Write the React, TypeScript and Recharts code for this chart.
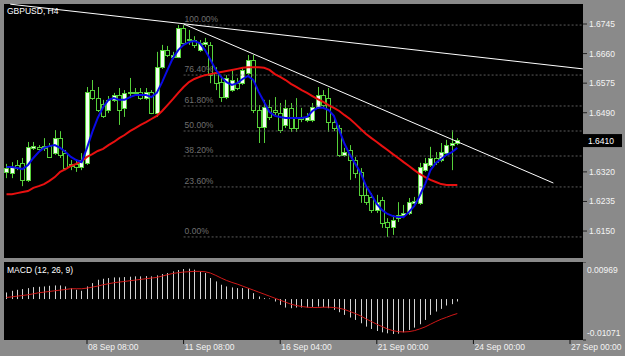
import React from 'react';
import { ComposedChart, Bar, Line, XAxis, YAxis, CartesianGrid, ReferenceLine } from 'recharts';

// ---- data (H4 bars, index 0 .. 84) ----
const opens = [1.6320,1.6317,1.6340,1.6346,1.6297,1.6389,1.6392,1.6389,1.6394,1.6374,1.6417,1.6374,1.6337,1.6343,1.6334,1.6346,1.6555,1.6532,1.6515,1.6498,1.6527,1.6541,1.6504,1.6547,1.6550,1.6550,1.6532,1.6550,1.6489,1.6621,1.6670,1.6650,1.6650,1.6734,1.6699,1.6699,1.6670,1.6688,1.6685,1.6604,1.6578,1.6535,1.6555,1.6575,1.6575,1.6604,1.6642,1.6498,1.6449,1.6506,1.6498,1.6489,1.6455,1.6504,1.6478,1.6478,1.6469,1.6469,1.6506,1.6541,1.6532,1.6463,1.6446,1.6369,1.6383,1.6354,1.6320,1.6254,1.6248,1.6210,1.6239,1.6176,1.6162,1.6187,1.6196,1.6202,1.6231,1.6231,1.6325,1.6340,1.6360,1.6354,1.6374,1.6397,1.6403];
const highs = [1.6343,1.6348,1.6354,1.6360,1.6406,1.6406,1.6397,1.6417,1.6403,1.6440,1.6437,1.6383,1.6354,1.6354,1.6374,1.6564,1.6584,1.6564,1.6527,1.6538,1.6547,1.6561,1.6555,1.6590,1.6561,1.6561,1.6561,1.6555,1.6665,1.6685,1.6682,1.6665,1.6742,1.6742,1.6728,1.6710,1.6699,1.6705,1.6693,1.6621,1.6596,1.6598,1.6613,1.6590,1.6621,1.6656,1.6656,1.6512,1.6527,1.6527,1.6535,1.6518,1.6527,1.6518,1.6532,1.6504,1.6489,1.6518,1.6564,1.6555,1.6561,1.6475,1.6455,1.6389,1.6397,1.6363,1.6331,1.6274,1.6259,1.6254,1.6248,1.6187,1.6196,1.6233,1.6225,1.6245,1.6248,1.6346,1.6360,1.6392,1.6377,1.6403,1.6412,1.6440,1.6417];
const lows = [1.6302,1.6302,1.6325,1.6279,1.6291,1.6383,1.6377,1.6380,1.6360,1.6369,1.6360,1.6325,1.6325,1.6320,1.6325,1.6340,1.6527,1.6492,1.6475,1.6489,1.6521,1.6455,1.6478,1.6532,1.6541,1.6527,1.6527,1.6486,1.6478,1.6616,1.6650,1.6644,1.6647,1.6682,1.6685,1.6676,1.6665,1.6679,1.6575,1.6555,1.6521,1.6529,1.6550,1.6555,1.6570,1.6598,1.6489,1.6403,1.6403,1.6469,1.6483,1.6432,1.6446,1.6435,1.6435,1.6463,1.6463,1.6463,1.6501,1.6504,1.6435,1.6437,1.6363,1.6363,1.6297,1.6302,1.6231,1.6225,1.6202,1.6202,1.6159,1.6133,1.6139,1.6176,1.6187,1.6196,1.6222,1.6225,1.6320,1.6334,1.6340,1.6348,1.6366,1.6325,1.6397];
const closes = [1.6331,1.6334,1.6331,1.6297,1.6392,1.6394,1.6386,1.6394,1.6363,1.6417,1.6369,1.6331,1.6343,1.6334,1.6354,1.6550,1.6532,1.6498,1.6481,1.6527,1.6541,1.6498,1.6547,1.6550,1.6547,1.6532,1.6550,1.6489,1.6621,1.6670,1.6656,1.6656,1.6734,1.6690,1.6702,1.6685,1.6690,1.6693,1.6598,1.6575,1.6535,1.6590,1.6584,1.6561,1.6613,1.6642,1.6498,1.6449,1.6506,1.6478,1.6492,1.6440,1.6504,1.6446,1.6446,1.6472,1.6478,1.6506,1.6541,1.6512,1.6463,1.6446,1.6369,1.6377,1.6354,1.6317,1.6254,1.6233,1.6210,1.6233,1.6173,1.6162,1.6182,1.6196,1.6202,1.6233,1.6236,1.6334,1.6346,1.6360,1.6348,1.6377,1.6397,1.6403,1.6412];
const maFast = [1.6334,1.6334,1.6331,1.6328,1.6340,1.6360,1.6377,1.6389,1.6394,1.6397,1.6389,1.6377,1.6363,1.6354,1.6348,1.6389,1.6435,1.6475,1.6506,1.6527,1.6532,1.6527,1.6527,1.6535,1.6541,1.6541,1.6541,1.6535,1.6547,1.6578,1.6613,1.6647,1.6670,1.6685,1.6693,1.6696,1.6690,1.6670,1.6642,1.6613,1.6593,1.6578,1.6570,1.6575,1.6587,1.6596,1.6584,1.6550,1.6521,1.6492,1.6481,1.6478,1.6475,1.6475,1.6475,1.6475,1.6478,1.6495,1.6504,1.6504,1.6498,1.6481,1.6440,1.6400,1.6369,1.6343,1.6317,1.6279,1.6254,1.6228,1.6210,1.6199,1.6193,1.6190,1.6190,1.6205,1.6222,1.6251,1.6285,1.6325,1.6346,1.6357,1.6369,1.6377,1.6389];
const maSlow = [1.6256,1.6256,1.6259,1.6262,1.6265,1.6274,1.6279,1.6285,1.6294,1.6305,1.6320,1.6328,1.6337,1.6343,1.6351,1.6363,1.6371,1.6380,1.6386,1.6397,1.6406,1.6417,1.6426,1.6437,1.6446,1.6455,1.6463,1.6472,1.6481,1.6495,1.6512,1.6529,1.6547,1.6564,1.6578,1.6587,1.6593,1.6598,1.6601,1.6604,1.6607,1.6610,1.6613,1.6616,1.6619,1.6621,1.6621,1.6621,1.6619,1.6613,1.6601,1.6593,1.6584,1.6573,1.6564,1.6555,1.6547,1.6538,1.6529,1.6521,1.6512,1.6504,1.6495,1.6483,1.6472,1.6458,1.6443,1.6429,1.6417,1.6406,1.6394,1.6383,1.6371,1.6360,1.6348,1.6337,1.6325,1.6314,1.6305,1.6297,1.6291,1.6285,1.6282,1.6282,1.6282];
const macdHist = [0.00172,0.00216,0.00242,0.00260,0.00286,0.00312,0.00321,0.00330,0.00347,0.00356,0.00356,0.00330,0.00286,0.00242,0.00216,0.00330,0.00417,0.00505,0.00531,0.00549,0.00566,0.00566,0.00575,0.00584,0.00593,0.00593,0.00601,0.00593,0.00619,0.00654,0.00680,0.00724,0.00759,0.00785,0.00794,0.00768,0.00724,0.00680,0.00549,0.00461,0.00374,0.00330,0.00304,0.00286,0.00286,0.00286,0.00155,0.00067,0.00023,0.00015,-0.00064,-0.00152,-0.00222,-0.00239,-0.00222,-0.00222,-0.00222,-0.00204,-0.00195,-0.00213,-0.00239,-0.00283,-0.00344,-0.00414,-0.00484,-0.00546,-0.00633,-0.00721,-0.00782,-0.00835,-0.00870,-0.00896,-0.00913,-0.00905,-0.00870,-0.00808,-0.00747,-0.00659,-0.00546,-0.00414,-0.00327,-0.00257,-0.00169,-0.00134,-0.00064];
const macdSignal = [0.00041,0.00058,0.00076,0.00093,0.00111,0.00137,0.00164,0.00181,0.00199,0.00216,0.00234,0.00251,0.00269,0.00269,0.00269,0.00286,0.00312,0.00339,0.00374,0.00400,0.00426,0.00444,0.00461,0.00479,0.00496,0.00514,0.00531,0.00549,0.00566,0.00601,0.00636,0.00671,0.00689,0.00706,0.00715,0.00724,0.00724,0.00715,0.00680,0.00619,0.00549,0.00487,0.00435,0.00391,0.00339,0.00286,0.00234,0.00181,0.00129,0.00076,0.00023,-0.00029,-0.00082,-0.00134,-0.00169,-0.00195,-0.00213,-0.00222,-0.00222,-0.00213,-0.00213,-0.00222,-0.00239,-0.00274,-0.00327,-0.00379,-0.00441,-0.00519,-0.00589,-0.00659,-0.00721,-0.00782,-0.00826,-0.00852,-0.00861,-0.00852,-0.00826,-0.00782,-0.00729,-0.00659,-0.00589,-0.00528,-0.00476,-0.00423,-0.00379];

const dateTicks = [15, 33, 51, 69, 87, 105];
const dateLabels = ['08 Sep 08:00', '11 Sep 08:00', '16 Sep 04:00', '21 Sep 00:00', '24 Sep 00:00', '27 Sep 00:00'];
const priceTicks = [1.6745, 1.666, 1.6575, 1.649, 1.632, 1.6235, 1.615];
const priceDomain = [1.60725, 1.68025];
const lastPrice = 1.641;
const fibRatios = [1, 0.764, 0.618, 0.5, 0.382, 0.236, 0];
const fibLabels = ['100.00%', '76.40%', '61.80%', '50.00%', '38.20%', '23.60%', '0.00%'];
const fibHigh = 1.6742;
const fibLow = 1.6133;
const fibStartBar = 33;
const trendA = [{ x: 0.7, y: 1.6802 }, { x: 107.4, y: 1.6616 }];
const trendB = [{ x: 33, y: 1.6745 }, { x: 101.9, y: 1.6288 }];
const macdTop = 0.00969;
const macdBottom = -0.01071;
const X_DOMAIN = [-0.466, 107.42];

const FONT = '"Liberation Sans", Arial, sans-serif';
const GREEN = '#56d13a';
const GREY_BG = '#8a8a8a';

const rows = opens.map((o, i) => ({
  i,
  open: o,
  high: highs[i],
  low: lows[i],
  close: closes[i],
  range: [lows[i], highs[i]],
  fast: maFast[i],
  slow: maSlow[i],
  hist: macdHist[i],
  signal: macdSignal[i],
}));

const Candle = (props: any) => {
  const { x, y, width, height, payload } = props;
  if (x == null || y == null) return null;
  const top = Math.min(y, y + height);
  const h = Math.abs(height);
  const { open, close, high, low } = payload;
  const span = high - low || 1e-9;
  const toY = (v: number) => top + ((high - v) / span) * h;
  const yo = toY(open);
  const yc = toY(close);
  const bTop = Math.round(Math.min(yo, yc)) + 0.5;
  const bBot = Math.round(Math.max(yo, yc)) + 0.5;
  const cx = Math.round(x + width / 2) + 0.5;
  const bull = close >= open;
  return (
    <g>
      <line x1={cx} x2={cx} y1={top} y2={top + h} stroke={GREEN} strokeWidth={1} />
      <rect x={cx - 2} y={bTop} width={4} height={Math.max(bBot - bTop, 1)} fill={bull ? '#f2fff0' : '#000'} stroke={GREEN} strokeWidth={1} />
    </g>
  );
};

const HistBar = (props: any) => {
  const { x, y, width, height } = props;
  if (x == null || y == null) return null;
  const top = Math.min(y, y + height);
  const h = Math.abs(height);
  const cx = Math.round(x + width / 2);
  return <rect x={cx} y={top} width={1} height={Math.max(h, 0.5)} fill="#d2d2d2" />;
};

const FibLabel = (props: any) => {
  const { viewBox, text } = props;
  if (!viewBox) return null;
  return (
    <text x={viewBox.x + 1} y={viewBox.y - 3} fill="#6f6f6f" fontSize={8.5} fontFamily={FONT}>
      {text}
    </text>
  );
};

const PriceBox = (props: any) => {
  const { viewBox, value } = props;
  if (!viewBox) return null;
  const rx = viewBox.x + viewBox.width;
  return (
    <g>
      <rect x={rx} y={viewBox.y - 6.5} width={39} height={13} fill="#000" />
      <text x={rx + 5} y={viewBox.y} dominantBaseline="central" fill="#fff" fontSize={8.5} fontFamily={FONT}>
        {value}
      </text>
    </g>
  );
};

const PriceTick = (props: any) => {
  const { x, y, payload } = props;
  return (
    <text x={x} y={y} dominantBaseline="central" fill="#f4f4f4" fontSize={8.5} fontFamily={FONT}>
      {Number(payload.value).toFixed(4)}
    </text>
  );
};

const MacdTick = (props: any) => {
  const { x, y, payload } = props;
  const v = Number(payload.value);
  const dy = v > 0 ? 8 : -7;
  return (
    <text x={x} y={y + dy} dominantBaseline="central" fill="#f4f4f4" fontSize={8.5} fontFamily={FONT}>
      {v > 0 ? v.toFixed(5) : v.toFixed(5)}
    </text>
  );
};

const DateTick = (props: any) => {
  const { x, y, payload } = props;
  const idx = dateTicks.indexOf(payload.value);
  return (
    <text x={x + 1} y={y + 3} dominantBaseline="central" fill="#f4f4f4" fontSize={8.5} fontFamily={FONT}>
      {idx >= 0 ? dateLabels[idx] : ''}
    </text>
  );
};

export default function App() {
  return (
    <div style={{ position: 'absolute', left: 0, top: 0, width: 625, height: 356, background: GREY_BG, overflow: 'hidden', fontFamily: FONT }}>
      <div style={{ position: 'absolute', left: 0, top: 0 }}>
        <ComposedChart width={625} height={262} data={rows} margin={{ top: 4, right: 0, bottom: 4, left: 4 }}>
          <CartesianGrid fill="#000" stroke="none" horizontal={false} vertical={false} />
          <XAxis dataKey="i" type="number" domain={X_DOMAIN} ticks={dateTicks} hide allowDataOverflow />
          <YAxis
            orientation="right"
            width={42}
            type="number"
            domain={priceDomain}
            ticks={priceTicks}
            allowDataOverflow
            axisLine={false}
            tickLine={{ stroke: '#222' }}
            tickSize={4}
            tickMargin={2}
            tick={<PriceTick />}
            interval={0}
          />
          {fibRatios.map((r, k) => {
            const p = fibLow + r * (fibHigh - fibLow);
            return (
              <ReferenceLine
                key={'fib' + k}
                segment={[{ x: fibStartBar, y: p }, { x: X_DOMAIN[1], y: p }]}
                stroke="#5c5c5c"
                strokeDasharray="2 2"
                ifOverflow="visible"
                label={<FibLabel text={fibLabels[k]} />}
              />
            );
          })}
          <Bar dataKey="range" barSize={5} shape={<Candle />} isAnimationActive={false} />
          <Line dataKey="slow" stroke="#e81010" strokeWidth={2} dot={false} isAnimationActive={false} />
          <Line dataKey="fast" stroke="#0a0ae6" strokeWidth={2} dot={false} isAnimationActive={false} />
          <ReferenceLine segment={trendA} stroke="#ffffff" strokeWidth={1} ifOverflow="visible" />
          <ReferenceLine segment={trendB} stroke="#ffffff" strokeWidth={1} ifOverflow="visible" />
          <ReferenceLine y={lastPrice} stroke="none" ifOverflow="visible" label={<PriceBox value={lastPrice.toFixed(4)} />} />
        </ComposedChart>
      </div>
      <div style={{ position: 'absolute', left: 0, top: 262 }}>
        <ComposedChart width={625} height={94} data={rows} margin={{ top: 0, right: 0, bottom: 0, left: 4 }}>
          <CartesianGrid fill="#000" stroke="none" horizontal={false} vertical={false} />
          <XAxis
            dataKey="i"
            type="number"
            domain={X_DOMAIN}
            ticks={dateTicks}
            allowDataOverflow
            height={16}
            axisLine={false}
            tickLine={{ stroke: '#111' }}
            tickSize={4}
            tickMargin={0}
            interval={0}
            tick={<DateTick />}
          />
          <YAxis
            orientation="right"
            width={42}
            type="number"
            domain={[macdBottom, macdTop]}
            ticks={[macdTop, macdBottom]}
            allowDataOverflow
            axisLine={false}
            tickLine={{ stroke: '#222' }}
            tickSize={3}
            tickMargin={1}
            interval={0}
            tick={<MacdTick />}
          />
          <Bar dataKey="hist" barSize={1} shape={<HistBar />} isAnimationActive={false} />
          <Line dataKey="signal" stroke="#d01818" strokeWidth={1} dot={false} isAnimationActive={false} />
        </ComposedChart>
      </div>
      <div style={{ position: 'absolute', left: 7, top: 6, color: '#fff', fontSize: 8.5, lineHeight: '11px', whiteSpace: 'nowrap' }}>GBPUSD, H4</div>
      <div style={{ position: 'absolute', left: 7, top: 265, color: '#fff', fontSize: 8.5, lineHeight: '11px', whiteSpace: 'nowrap' }}>MACD (12, 26, 9)</div>
    </div>
  );
}
